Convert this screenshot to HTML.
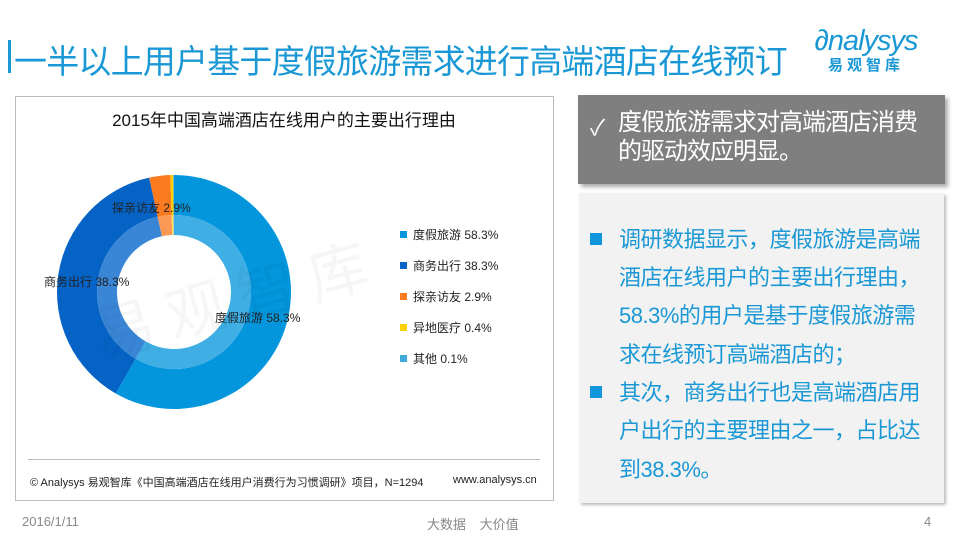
<!DOCTYPE html>
<html><head><meta charset="utf-8"><style>
body{margin:0;width:959px;height:539px;background:#fff;position:relative;overflow:hidden;font-family:"Liberation Sans","Noto Sans CJK SC",sans-serif}
.abs{position:absolute}
.line{position:absolute;left:619px;font-size:22px;color:#1a98d5;white-space:nowrap;letter-spacing:-0.5px}
.bul{position:absolute;left:590px;width:12px;height:12px;background:#0f96da}
.leg{position:absolute;left:400px;font-size:12px;color:#222;white-space:nowrap}
.leg i{display:inline-block;width:7px;height:7px;margin-right:6px;vertical-align:1px}
</style></head><body>
<div class="abs" style="left:8px;top:40px;width:3px;height:33px;background:#1a98d5"></div>
<div class="abs" style="left:14px;top:35px;font-size:33px;color:#1a98d5;letter-spacing:-0.8px;white-space:nowrap">一半以上用户基于度假旅游需求进行高端酒店在线预订</div>
<div class="abs" style="left:796px;top:26px;width:140px;text-align:center;color:#1a98d5">
<div style="font-size:29px;font-style:italic;letter-spacing:-1px;line-height:30px">∂nalysys</div>
<div style="font-size:15px;font-weight:bold;letter-spacing:4px;line-height:20px">易观智库</div></div>

<div class="abs" style="left:15px;top:96px;width:537px;height:403px;border:1px solid #bbb"></div>
<div class="abs" style="left:15px;top:106px;width:538px;text-align:center;font-size:17px;color:#111">2015年中国高端酒店在线用户的主要出行理由</div>
<svg class="abs" style="left:0;top:0" width="560" height="500">
<g id="donut"></g>
<text x="90" y="330" font-size="60" fill="#000" opacity="0.03" transform="rotate(-15 200 300)" font-family="Noto Sans CJK SC">易 观 智 库</text>
</svg>
<div class="leg" style="top:226px"><i style="background:#0396dc"></i>度假旅游 58.3%</div>
<div class="leg" style="top:257px"><i style="background:#0563c6"></i>商务出行 38.3%</div>
<div class="leg" style="top:288px"><i style="background:#fb7b1e"></i>探亲访友 2.9%</div>
<div class="leg" style="top:319px"><i style="background:#ffd000"></i>异地医疗 0.4%</div>
<div class="leg" style="top:350px"><i style="background:#3fa9d8"></i>其他 0.1%</div>
<div class="abs" style="left:28px;top:459px;width:512px;height:1px;background:#bbb"></div>
<div class="abs" style="left:30px;top:474px;font-size:11px;color:#222;white-space:nowrap">© Analysys 易观智库《中国高端酒店在线用户消费行为习惯调研》项目，N=1294</div>
<div class="abs" style="left:453px;top:474px;font-size:11px;color:#222">www.analysys.cn</div>

<div class="abs" style="left:578px;top:95px;width:367px;height:89px;background:#7f7f7f;box-shadow:3px 3px 4px #aaa"></div>
<div class="abs" style="left:590px;top:110px;font-size:22px;color:#fff">✓</div>
<div class="abs" style="left:618px;top:108px;font-size:24px;line-height:29px;color:#fff;white-space:nowrap;letter-spacing:-1px">度假旅游需求对高端酒店消费<br>的驱动效应明显。</div>

<div class="abs" style="left:579px;top:193px;width:365px;height:310px;background:#f2f2f2;box-shadow:2px 2px 3px #bbb"></div>
<div class="bul" style="top:233px"></div>
<div class="bul" style="top:386px"></div>
<div>
<div class="line" style="top:222px">调研数据显示，度假旅游是高端</div>
<div class="line" style="top:260px">酒店在线用户的主要出行理由，</div>
<div class="line" style="top:298px">58.3%的用户是基于度假旅游需</div>
<div class="line" style="top:337px">求在线预订高端酒店的；</div>
<div class="line" style="top:375px">其次，商务出行也是高端酒店用</div>
<div class="line" style="top:413px">户出行的主要理由之一，占比达</div>
<div class="line" style="top:452px">到38.3%。</div>
</div>

<div class="abs" style="left:22px;top:514px;font-size:13px;color:#888">2016/1/11</div>
<div class="abs" style="left:427px;top:514px;font-size:13px;color:#888;word-spacing:10px">大数据 大价值</div>
<div class="abs" style="left:924px;top:514px;font-size:13px;color:#888">4</div>

<script>
const categories=["度假旅游","商务出行","探亲访友","异地医疗","其他"];
const values=[58.3,38.3,2.9,0.4,0.1];
const outerColors=["#0396dc","#0563c6","#fb7b1e","#ffd000","#3fa9d8"];
const innerColors=["#3eaee4","#3a86d6","#fc9a55","#ffe060","#70c0e4"];
const cx=174,cy=292,R=117,Rm=77,Ri=57;
const total=values.reduce((a,b)=>a+b,0);
const g=document.getElementById('donut');
function pt(r,a){return [cx+r*Math.sin(a),cy-r*Math.cos(a)];}
function arc(r1,r2,a0,a1){const l=a1-a0>Math.PI?1:0;const p=[pt(r2,a0),pt(r2,a1),pt(r1,a1),pt(r1,a0)];
return `M${p[0]}A${r2},${r2} 0 ${l} 1 ${p[1]}L${p[2]}A${r1},${r1} 0 ${l} 0 ${p[3]}Z`;}
let a=0;
values.forEach((v,i)=>{const a1=a+v/total*2*Math.PI;
[[Rm,R,outerColors[i]],[Ri,Rm,innerColors[i]]].forEach(([r1,r2,c],k)=>{
const p=document.createElementNS('http://www.w3.org/2000/svg','path');
p.setAttribute('d',arc(r1,r2,a,a1));p.setAttribute('fill',c);


g.appendChild(p);});
a=a1;});
const labelPos=[[215,322],[44,286],[112,212]];
labelPos.forEach((pp,i)=>{const t=document.createElementNS('http://www.w3.org/2000/svg','text');
t.setAttribute('x',pp[0]);t.setAttribute('y',pp[1]);t.setAttribute('font-size','12');t.setAttribute('fill','#222');
t.textContent=categories[i]+' '+values[i]+'%';


g.appendChild(t);});
</script>
</body></html>
